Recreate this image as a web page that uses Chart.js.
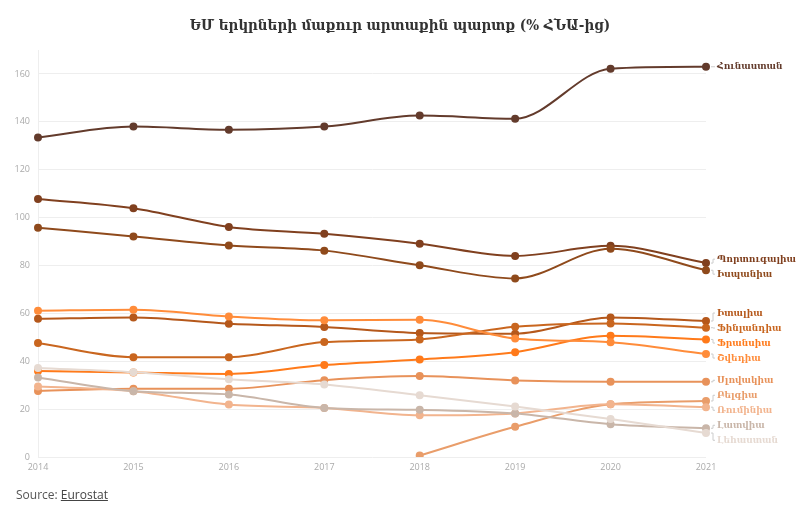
<!DOCTYPE html>
<html>
<head>
<meta charset="utf-8">
<script src="https://cdn.jsdelivr.net/npm/chart.js@4.4.1/dist/chart.umd.min.js"></script>
<style>
  html, body { margin: 0; padding: 0; background: #fff; }
  #wrap { position: relative; width: 800px; height: 513px; }
  #title { position: absolute; left: 0; top: 16px; width: 800px; text-align: center;
           font: bold 15px "DejaVu Serif Condensed", "DejaVu Serif", serif; color: #333; }
  #source { position: absolute; left: 16px; top: 486px; font: 12px "Open Sans", sans-serif; color: #555; }
  #source span { text-decoration: underline; color: #444; }
  canvas { position: absolute; left: 0; top: 0; }
</style>
</head>
<body>
<div id="wrap">
  <canvas id="c" width="800" height="513"></canvas>
  <div id="title">ԵՄ երկրների մաքուր արտաքին պարտք (% ՀՆԱ-ից)</div>
  <div id="source">Source: <span>Eurostat</span></div>
</div>
<script>
const years = ['2014','2015','2016','2017','2018','2019','2020','2021'];

const greece   = [133.5, 138.0, 136.7, 138.0, 142.6, 141.3, 162.2, 163.0];
const portugal = [107.8, 103.9, 96.1, 93.2, 89.1, 84.0, 88.2, 81.0];
const spain    = [95.8, 92.1, 88.3, 86.2, 80.1, 74.6, 87.0, 78.0];
const italy    = [57.7, 58.3, 55.7, 54.3, 51.8, 51.5, 58.3, 56.8];
const finland  = [47.6, 41.7, 41.7, 48.0, 49.1, 54.4, 55.8, 54.0];
const france   = [35.9, 35.3, 34.7, 38.4, 40.7, 43.8, 50.6, 49.1];
const sweden   = [61.1, 61.5, 58.7, 57.1, 57.3, 49.5, 47.9, 43.0];
const slovakia = [27.6, 28.5, 28.5, 32.1, 33.8, 32.0, 31.4, 31.4];
const belgium  = [null, null, null, null, 0.6, 12.6, 22.0, 23.4];
const romania  = [29.4, 27.5, 21.9, 20.5, 17.4, 18.2, 22.0, 20.8];
const latvia   = [33.2, 27.5, 26.1, 20.5, 19.7, 18.2, 13.7, 12.0];
const poland   = [37.2, 35.4, 32.5, 30.3, 25.8, 21.1, 15.9, 10.0];

const seriesNames = ['Հունաստան','Պորտուգալիա','Իսպանիա','Իտալիա','Ֆինլանդիա','Ֆրանսիա','Շվեդիա','Սլովակիա','Բելգիա','Ռումինիա','Լատվիա','Լեհաստան'];
const seriesData = [greece, portugal, spain, italy, finland, france, sweden, slovakia, belgium, romania, latvia, poland];
const seriesColors = ['#633b2c','#80401f','#8f4a1c','#b5581b','#c9661f','#ff7a1a','#ff8c3a','#e8925a','#e99d6a','#f2b48e','#c9b6a9','#e6dad2'];

const datasets = seriesNames.map((n, i) => ({
  label: n,
  data: seriesData[i],
  borderColor: seriesColors[i],
  backgroundColor: seriesColors[i],
  borderWidth: 2,
  pointRadius: 3,
  pointHoverRadius: 3,
  cubicInterpolationMode: 'monotone',
  fill: false,
  spanGaps: false
})).reverse();

const endLabels = {
  id: 'endLabels',
  afterDatasetsDraw(chart) {
    const ctx = chart.ctx;
    const gap = 15;
    const items = [];
    chart.data.datasets.forEach((ds, di) => {
      const meta = chart.getDatasetMeta(di);
      const pt = meta.data[meta.data.length - 1];
      items.push({ label: ds.label, color: ds.borderColor, x: pt.x, py: pt.y, want: pt.y });
    });
    items.sort((a, b) => a.want - b.want);
    let clusters = items.map(it => ({ items: [it] }));
    const place = c => {
      const mean = c.items.reduce((s, it) => s + it.want, 0) / c.items.length;
      c.top = mean - (c.items.length - 1) * gap / 2;
    };
    clusters.forEach(place);
    let merged = true;
    while (merged) {
      merged = false;
      for (let i = 0; i < clusters.length - 1; i++) {
        const a = clusters[i], b = clusters[i + 1];
        if (b.top < a.top + a.items.length * gap) {
          a.items = a.items.concat(b.items);
          place(a);
          clusters.splice(i + 1, 1);
          merged = true;
          break;
        }
      }
    }
    ctx.save();
    ctx.font = 'bold 10px "DejaVu Serif Condensed", "DejaVu Serif", serif';
    ctx.textBaseline = 'middle';
    ctx.textAlign = 'left';
    clusters.forEach(c => {
      c.items.forEach((it, k) => {
        const ly = c.top + k * gap;
        ctx.strokeStyle = '#cccccc';
        ctx.lineWidth = 1;
        ctx.beginPath();
        ctx.moveTo(it.x + 5, it.py);
        ctx.lineTo(it.x + 7, it.py);
        ctx.lineTo(it.x + 7, ly);
        ctx.lineTo(it.x + 9, ly);
        ctx.stroke();
        ctx.fillStyle = it.color;
        ctx.fillText(it.label, it.x + 11, ly);
      });
    });
    ctx.restore();
  }
};

new Chart(document.getElementById('c'), {
  type: 'line',
  data: { labels: years, datasets },
  options: {
    responsive: false,
    animation: false,
    layout: { padding: { left: 0, right: 94, top: 50, bottom: 36 } },
    plugins: { legend: { display: false }, tooltip: { enabled: false }, title: { display: false } },
    scales: {
      x: {
        offset: false,
        grid: { display: false, drawTicks: false },
        border: { display: false },
        ticks: { color: '#aaaaaa', font: { family: 'Open Sans', size: 9 }, padding: 5, maxRotation: 0 },
        afterFit: s => { s.height = 20; }
      },
      y: {
        min: 0, max: 170,
        ticks: { stepSize: 20, color: '#aaaaaa', font: { family: 'Open Sans', size: 9 }, padding: 8 },
        afterBuildTicks: axis => { axis.ticks = axis.ticks.filter(t => t.value % 20 === 0); },
        grid: { color: '#eeeeee', drawTicks: false },
        border: { display: true, color: '#eeeeee' },
        afterFit: s => { s.width = 38; }
      }
    }
  },
  plugins: [endLabels]
});
</script>
</body>
</html>
